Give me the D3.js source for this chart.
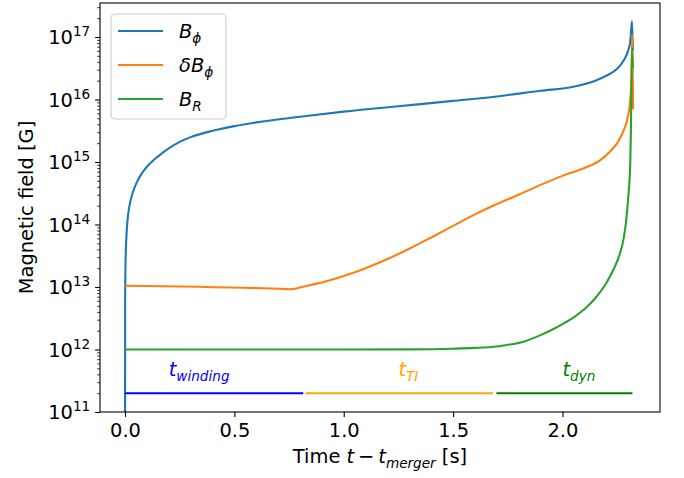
<!DOCTYPE html>
<html>
<head>
<meta charset="utf-8">
<script src="https://cdn.jsdelivr.net/npm/d3@7"></script>
<style>
  html, body { margin: 0; padding: 0; background: #fff; }
  svg { display: block; font-family: "DejaVu Sans", sans-serif; }
</style>
</head>
<body>
<svg id="chart" width="684" height="478"></svg>
<script>
// ---------------- data ----------------
const bphiT = [0, 0.0005, 0.001, 0.002, 0.004, 0.007, 0.01, 0.015, 0.02, 0.03, 0.04, 0.055, 0.07, 0.085, 0.1, 0.125, 0.15, 0.2, 0.25, 0.3, 0.4, 0.5, 0.6, 0.8, 1.0, 1.25, 1.5, 1.7, 1.9, 2.05, 2.15, 2.2, 2.25, 2.28, 2.3, 2.31, 2.318, 2.322];
const bphiV = [1e9, 5e12, 1e13, 2e13, 4e13, 7e13, 1e14, 1.5e14, 1.95e14, 2.8e14, 3.6e14, 4.8e14, 6e14, 7.2e14, 8.4e14, 1.03e15, 1.22e15, 1.65e15, 2.1e15, 2.5e15, 3.15e15, 3.75e15, 4.3e15, 5.3e15, 6.4e15, 7.8e15, 9.5e15, 1.12e16, 1.38e16, 1.6e16, 2.0e16, 2.4e16, 3.1e16, 4.2e16, 6e16, 8.5e16, 1.8e17, 6e16];

const dbphiT = [0, 0.74, 0.757, 0.8, 0.85, 0.925, 1.0, 1.1, 1.2, 1.3, 1.4, 1.5, 1.6, 1.69, 1.8, 1.9, 2.0, 2.1, 2.17, 2.22, 2.25, 2.28, 2.3, 2.31, 2.316, 2.319, 2.323];
const dbphiV = [1.05e13, 9.25e12, 9.2e12, 9.8e12, 1.08e13, 1.25e13, 1.5e13, 2.0e13, 2.8e13, 4.1e13, 6.2e13, 9.5e13, 1.45e14, 2.05e14, 3.0e14, 4.3e14, 6.0e14, 8.0e14, 1.05e15, 1.5e15, 2.0e15, 3.2e15, 5.5e15, 1e16, 2.5e16, 1.1e17, 7e15];

const brT = [0, 1.0, 1.3, 1.5, 1.6, 1.7, 1.76, 1.83, 1.9, 1.95, 2.0, 2.05, 2.1, 2.15, 2.2, 2.23, 2.26, 2.28, 2.29, 2.3, 2.31, 2.313, 2.318, 2.322];
const brV = [1e12, 1e12, 1.005e12, 1.03e12, 1.06e12, 1.12e12, 1.2e12, 1.36e12, 1.7e12, 2.05e12, 2.55e12, 3.25e12, 4.4e12, 6.6e12, 1.15e13, 1.8e13, 3.2e13, 6e13, 1.05e14, 2.5e14, 9.5e14, 3.2e15, 6.6e16, 3.2e16];

const phaseNames = ["winding", "TI", "dyn"];
const phaseStart = [0, 0.827, 1.698];
const phaseEnd = [0.815, 1.682, 2.32];
const phaseLevel = 2e11;
const phaseLabelT = [0.2, 1.25, 2.0];
const phaseColors = ["#0000ff", "#ffa500", "#008000"];

const xTicks = [0, 0.5, 1.0, 1.5, 2.0];
const xTickLabels = ["0.0", "0.5", "1.0", "1.5", "2.0"];
const yTicks = [1e11, 1e12, 1e13, 1e14, 1e15, 1e16, 1e17];
const yTickExps = ["11", "12", "13", "14", "15", "16", "17"];

const seriesNames = ["phi", "dphi", "R"];
const seriesColors = ["#1f77b4", "#ff7f0e", "#2ca02c"];

// ---------------- layout ----------------
const L = 100, R = 660, T = 3, B = 412;
const FS = 19.44;
const svg = d3.select("#chart");

const x = d3.scaleLinear().domain([-0.1143, 2.446]).range([L, R]);
const y = d3.scaleLog().domain([1e11, Math.pow(10, 11 + (B - T) / 62.5)]).range([B, T]);

svg.append("defs").append("clipPath").attr("id", "clip")
  .append("rect").attr("x", L).attr("y", T).attr("width", R - L).attr("height", B - T);

const plot = svg.append("g").attr("clip-path", "url(#clip)");
const line = d3.line().x(d => x(d[0])).y(d => y(d[1])).curve(d3.curveMonotoneX);

const series = [
  d3.zip(bphiT, bphiV),
  d3.zip(dbphiT, dbphiV),
  d3.zip(brT, brV)
];
series.forEach((s, i) => {
  plot.append("path").datum(s).attr("d", line)
    .attr("fill", "none").attr("stroke", seriesColors[i])
    .attr("stroke-width", 2.1).attr("stroke-linejoin", "round");
});

// phase bars
phaseNames.forEach((n, i) => {
  plot.append("line")
    .attr("x1", x(phaseStart[i])).attr("x2", x(phaseEnd[i]))
    .attr("y1", y(phaseLevel)).attr("y2", y(phaseLevel))
    .attr("stroke", phaseColors[i]).attr("stroke-width", 2.1);
  const t = svg.append("text")
    .attr("x", x(phaseLabelT[i])).attr("y", 376)
    .attr("fill", phaseColors[i]).attr("font-size", FS)
    .attr("font-style", "italic");
  t.append("tspan").text("t");
  t.append("tspan").attr("dy", 5).attr("font-size", FS * 0.7).text(n);
});

// ---------------- axes ----------------
const xAxis = svg.append("g").attr("transform", `translate(0,${B})`)
  .call(d3.axisBottom(x).tickValues(xTicks).tickFormat((d, i) => xTickLabels[i])
    .tickSize(4.9).tickPadding(4.9).tickSizeOuter(0));
xAxis.select(".domain").remove();
xAxis.selectAll("line").attr("stroke", "#000").attr("stroke-width", 1.1);
xAxis.selectAll("text").attr("font-size", FS).attr("font-family", "DejaVu Sans").attr("fill", "#000")
  .attr("dy", null).attr("y", 25);

// y major ticks
const yAxis = svg.append("g").attr("transform", `translate(${L},0)`)
  .call(d3.axisLeft(y).tickValues(yTicks).tickFormat("").tickSize(4.9).tickSizeOuter(0));
yAxis.select(".domain").remove();
yAxis.selectAll("line").attr("stroke", "#000").attr("stroke-width", 1.1);

// y minor ticks
const minor = [];
for (let e = 11; e <= 17; e++) for (let m = 2; m <= 9; m++) {
  const v = m * Math.pow(10, e);
  if (v < y.domain()[1]) minor.push(v);
}
const yMinor = svg.append("g").attr("transform", `translate(${L},0)`)
  .call(d3.axisLeft(y).tickValues(minor).tickFormat("").tickSize(2.8).tickSizeOuter(0));
yMinor.select(".domain").remove();
yMinor.selectAll("line").attr("stroke", "#000").attr("stroke-width", 0.8);

// y tick labels
yTicks.forEach((v, i) => {
  const t = svg.append("text")
    .attr("x", L - 9.8).attr("y", y(v) + 7)
    .attr("text-anchor", "end").attr("font-size", FS).attr("fill", "#000");
  t.append("tspan").text("10");
  t.append("tspan").attr("dy", -8).attr("font-size", FS * 0.7).text(yTickExps[i]);
});

// spines
svg.append("rect").attr("x", L).attr("y", T).attr("width", R - L).attr("height", B - T)
  .attr("fill", "none").attr("stroke", "#000").attr("stroke-width", 1.1);

// axis labels
const xl = svg.append("text").attr("x", (L + R) / 2).attr("y", 463)
  .attr("text-anchor", "middle").attr("font-size", FS).attr("fill", "#000");
xl.append("tspan").text("Time ");
xl.append("tspan").attr("font-style", "italic").text("t");
xl.append("tspan").text("\u2009\u2212\u2009");
xl.append("tspan").attr("font-style", "italic").text("t");
xl.append("tspan").attr("font-style", "italic").attr("font-size", FS * 0.7).attr("dy", 5).text("merger");
xl.append("tspan").attr("dy", -5).text(" [s]");

svg.append("text").attr("transform", `translate(33,${(T + B) / 2}) rotate(-90)`)
  .attr("text-anchor", "middle").attr("font-size", FS).attr("fill", "#000")
  .text("Magnetic field [G]");

// ---------------- legend ----------------
const lg = svg.append("g");
lg.append("rect").attr("x", 111).attr("y", 14).attr("width", 115).attr("height", 105)
  .attr("rx", 4).attr("fill", "#fff").attr("fill-opacity", 0.8)
  .attr("stroke", "#cccccc").attr("stroke-width", 1.1);
const legY = [31, 65, 99];
seriesNames.forEach((n, i) => {
  lg.append("line").attr("x1", 118).attr("x2", 163).attr("y1", legY[i]).attr("y2", legY[i])
    .attr("stroke", seriesColors[i]).attr("stroke-width", 2.1);
  const t = lg.append("text").attr("x", 179).attr("y", legY[i] + 7)
    .attr("font-size", FS).attr("fill", "#000").attr("font-style", "italic");
  if (n === "phi") {
    t.append("tspan").text("B");
    t.append("tspan").attr("dy", 5).attr("font-size", FS * 0.7).text("\u03d5");
  } else if (n === "dphi") {
    t.append("tspan").text("\u03b4B");
    t.append("tspan").attr("dy", 5).attr("font-size", FS * 0.7).text("\u03d5");
  } else {
    t.append("tspan").text("B");
    t.append("tspan").attr("dy", 5).attr("font-size", FS * 0.7).text("R");
  }
});
</script>
</body>
</html>
